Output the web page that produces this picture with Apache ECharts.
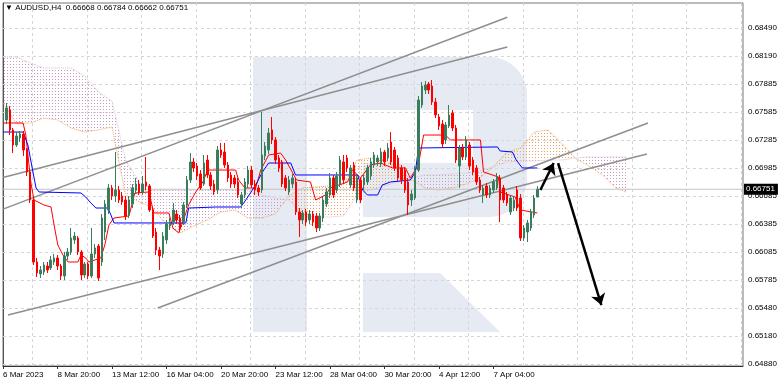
<!DOCTYPE html>
<html><head><meta charset="utf-8">
<script src="https://cdn.jsdelivr.net/npm/echarts@6/dist/echarts.min.js"></script>
<style>html,body{margin:0;padding:0;background:#fff}#c{width:782px;height:385px}</style>
</head><body><div id="c"></div>
<script>
// ---------- data ----------
const priceTicks = [0.6488,0.6518,0.6548,0.6578,0.6608,0.6638,0.6668,0.6698,0.6728,0.6758,0.6788,0.6818,0.6848];
const priceLabels = ['0.64880','0.65180','0.65480','0.65785','0.66085','0.66385','0.66685','0.66985','0.67285','0.67585','0.67885','0.68190','0.68490'];
const timeTicks = [0,16,32,48,64,80,96,112,128,144];
const timeLabels = ['6 Mar 2023','8 Mar 20:00','13 Mar 12:00','16 Mar 04:00','20 Mar 20:00','23 Mar 12:00','28 Mar 04:00','30 Mar 20:00','4 Apr 12:00','7 Apr 04:00'];
// candles: [open, close, low, high], bar index 1..157
const candles = [
[0.67493,0.67622,0.67450,0.67675],[0.67600,0.67386,0.67332,0.67643],[0.67386,0.67225,0.67139,0.67407],[0.67225,0.67321,0.67204,0.67364],
[0.67300,0.67343,0.67257,0.67375],[0.67343,0.67172,0.67107,0.67375],[0.67172,0.66936,0.66893,0.67193],[0.66936,0.66636,0.66604,0.66979],
[0.66636,0.65972,0.65940,0.66657],[0.65972,0.65854,0.65811,0.66015],[0.65844,0.65886,0.65801,0.65929],[0.65865,0.65940,0.65833,0.65972],
[0.65929,0.65886,0.65854,0.65972],[0.65908,0.65993,0.65886,0.66036],[0.65972,0.66015,0.65940,0.66058],[0.66015,0.65929,0.65886,0.66047],
[0.65929,0.65822,0.65779,0.65951],[0.65822,0.66036,0.65779,0.66079],[0.66036,0.66079,0.65993,0.66122],[0.66079,0.66229,0.66047,0.66336],
[0.66208,0.66250,0.66165,0.66293],[0.66229,0.66079,0.66047,0.66250],[0.66079,0.65833,0.65779,0.66100],[0.65833,0.65951,0.65801,0.65972],
[0.65951,0.65822,0.65790,0.65972],[0.65822,0.66058,0.65801,0.66336],[0.66058,0.66122,0.66015,0.66165],[0.66143,0.65801,0.65768,0.66165],
[0.65972,0.66443,0.65929,0.66486],[0.66293,0.66593,0.66208,0.66636],[0.66529,0.66765,0.66486,0.66807],[0.66765,0.66679,0.66636,0.66797],
[0.66679,0.66743,0.66615,0.67150],[0.66743,0.66636,0.66604,0.66786],[0.66679,0.66615,0.66583,0.66722],[0.66636,0.66465,0.66422,0.66679],
[0.66475,0.66636,0.66443,0.66679],[0.66593,0.66765,0.66550,0.66807],[0.66743,0.66807,0.66700,0.66872],[0.66807,0.66722,0.66690,0.66850],
[0.66722,0.66807,0.66690,0.66893],[0.66829,0.66786,0.66743,0.67097],[0.66786,0.66529,0.66508,0.66807],[0.66529,0.66250,0.66229,0.66550],
[0.66293,0.66100,0.66047,0.66336],[0.66100,0.66036,0.65886,0.66133],[0.66058,0.66250,0.66015,0.66293],[0.66208,0.66379,0.66165,0.66422],
[0.66358,0.66400,0.66315,0.66443],[0.66400,0.66529,0.66368,0.66604],[0.66486,0.66422,0.66379,0.66529],[0.66443,0.66336,0.66293,0.66475],
[0.66400,0.66583,0.66368,0.66615],[0.66583,0.66850,0.66550,0.66893],[0.66850,0.67043,0.66818,0.67139],[0.67043,0.66979,0.66936,0.67086],
[0.67000,0.66893,0.66850,0.67032],[0.66915,0.66765,0.66743,0.66957],[0.66807,0.67032,0.66786,0.67118],[0.67064,0.66904,0.66872,0.67118],
[0.66904,0.66786,0.66743,0.66936],[0.66807,0.66722,0.66690,0.66850],[0.66743,0.67172,0.66700,0.67214],[0.67172,0.67118,0.67086,0.67247],
[0.67150,0.67011,0.66979,0.67247],[0.67011,0.66872,0.66829,0.67043],[0.66904,0.66807,0.66765,0.66936],[0.66872,0.66807,0.66765,0.66904],
[0.66829,0.66690,0.66657,0.66872],[0.66593,0.66690,0.66550,0.66722],[0.66690,0.66829,0.66657,0.66872],[0.66807,0.66957,0.66765,0.67000],
[0.66957,0.66797,0.66765,0.67000],[0.66807,0.66743,0.66690,0.66850],[0.66765,0.66722,0.66679,0.66797],[0.66743,0.67118,0.66711,0.67579],
[0.67107,0.67214,0.67064,0.67257],[0.67172,0.67354,0.67129,0.67407],[0.67386,0.67279,0.67236,0.67525],[0.67279,0.67064,0.67022,0.67311],
[0.67086,0.66979,0.66936,0.67118],[0.67043,0.66807,0.66775,0.67064],[0.66872,0.66765,0.66732,0.66904],[0.66722,0.66850,0.66690,0.66893],
[0.66807,0.66872,0.66765,0.66915],[0.66829,0.66508,0.66475,0.66872],[0.66508,0.66422,0.66240,0.66550],[0.66422,0.66497,0.66379,0.66529],
[0.66508,0.66400,0.66358,0.66540],[0.66422,0.66486,0.66379,0.66529],[0.66486,0.66400,0.66358,0.66518],[0.66465,0.66336,0.66293,0.66497],
[0.66336,0.66465,0.66304,0.66497],[0.66443,0.66636,0.66400,0.66668],[0.66593,0.66722,0.66561,0.66765],[0.66690,0.66872,0.66657,0.66925],
[0.66872,0.66690,0.66657,0.66904],[0.66743,0.66893,0.66711,0.66936],[0.66807,0.67064,0.66775,0.67107],[0.67043,0.66850,0.66807,0.67118],
[0.67086,0.66979,0.66936,0.67118],[0.66797,0.66979,0.66765,0.67011],[0.67011,0.66765,0.66732,0.67043],[0.66636,0.66872,0.66604,0.66904],
[0.66850,0.66636,0.66604,0.66882],[0.66797,0.66872,0.66743,0.66904],[0.66829,0.66979,0.66797,0.67011],[0.66893,0.67043,0.66850,0.67086],
[0.67011,0.67118,0.66979,0.67150],[0.67043,0.67086,0.67000,0.67118],[0.67022,0.67150,0.66990,0.67193],[0.67150,0.67043,0.67000,0.67172],
[0.67086,0.67193,0.67054,0.67247],[0.67257,0.67043,0.67011,0.67364],[0.67172,0.66979,0.66947,0.67204],[0.67086,0.66872,0.66840,0.67118],
[0.66979,0.66850,0.66807,0.67011],[0.66957,0.66743,0.66711,0.66990],[0.66829,0.66583,0.66475,0.66872],[0.66636,0.66700,0.66572,0.66743],
[0.66657,0.66957,0.66636,0.67000],[0.66957,0.67707,0.66936,0.67750],[0.67654,0.67857,0.67622,0.67900],[0.67814,0.67868,0.67771,0.67911],
[0.67879,0.67814,0.67771,0.67900],[0.67857,0.67686,0.67654,0.67921],[0.67686,0.67547,0.67514,0.67729],[0.67525,0.67429,0.67386,0.67557],
[0.67450,0.67236,0.67193,0.67493],[0.67279,0.67440,0.67236,0.67472],[0.67429,0.67547,0.67407,0.67654],[0.67568,0.67407,0.67375,0.67600],
[0.67407,0.67064,0.67032,0.67440],[0.67000,0.67193,0.66765,0.67225],[0.67193,0.67097,0.67064,0.67236],[0.67097,0.67279,0.67064,0.67321],
[0.67225,0.67000,0.66957,0.67257],[0.67064,0.66936,0.66904,0.67097],[0.66979,0.66829,0.66797,0.67011],[0.66850,0.66743,0.66711,0.66882],
[0.66690,0.66765,0.66604,0.66797],[0.66786,0.66690,0.66657,0.66818],[0.66690,0.66765,0.66657,0.66797],[0.66743,0.66829,0.66711,0.66861],
[0.66765,0.66882,0.66743,0.66925],[0.66872,0.66636,0.66400,0.66904],[0.66765,0.66636,0.66604,0.66797],[0.66690,0.66604,0.66572,0.66722],
[0.66508,0.66657,0.66475,0.66690],[0.66550,0.66636,0.66518,0.66679],[0.66743,0.66550,0.66518,0.66786],[0.66657,0.66229,0.66197,0.66700],
[0.66229,0.66336,0.66197,0.66368],[0.66293,0.66390,0.66186,0.66422],[0.66336,0.66508,0.66304,0.66540],[0.66475,0.66657,0.66443,0.66690],
[0.66668,0.66751,0.66662,0.66784]
];
const tenkan = [[0,0.67461],[5.9,0.67461],[6.7,0.67332],[8.2,0.66818],[9.1,0.66636],[12.0,0.66583],[14.1,0.66561],[15.0,0.66368],[16.1,0.66154],[17.6,0.66047],[19.1,0.65972],[22.0,0.65972],[22.9,0.66047],[24.3,0.66015],[25.2,0.65972],[28.7,0.66015],[29.9,0.66154],[31.1,0.66368],[32.6,0.66443],[37.0,0.66465],[38.7,0.66711],[42.8,0.66722],[44.3,0.66497],[48.7,0.66497],[49.9,0.66336],[51.6,0.66283],[52.8,0.66400],[54.5,0.66583],[56.6,0.66722],[58.7,0.66829],[60.1,0.66957],[68.3,0.66957],[69.2,0.66850],[71.0,0.66765],[74.2,0.66765],[75.7,0.66957],[78.0,0.67118],[81.5,0.67139],[83.0,0.67064],[86.2,0.66850],[90.3,0.66829],[91.8,0.66636],[94.7,0.66690],[96.2,0.66765],[101.2,0.66829],[102.6,0.66957],[105.0,0.66872],[107.9,0.67011],[110.9,0.67032],[114.4,0.66979],[118.2,0.66979],[119.6,0.66872],[122.0,0.67011],[123.5,0.67332],[129.9,0.67332],[131.4,0.67279],[140.2,0.67279],[141.1,0.66936],[145.5,0.66882],[146.0,0.66722],[150.4,0.66668],[151.9,0.66529],[156.9,0.66497]];
const kijun = [[0,0.67364],[5.9,0.67364],[7.3,0.67225],[8.8,0.66936],[9.7,0.66765],[10.6,0.66722],[22.9,0.66711],[24.3,0.66668],[25.8,0.66604],[27.3,0.66550],[30.8,0.66550],[31.7,0.66475],[32.6,0.66390],[53.7,0.66390],[54.5,0.66550],[62.5,0.66561],[69.8,0.66561],[71.3,0.66636],[74.2,0.66797],[76.2,0.66936],[78.0,0.67032],[84.5,0.67032],[85.9,0.66904],[104.1,0.66904],[105.6,0.66743],[107.0,0.66690],[110.0,0.66690],[111.4,0.66797],[113.8,0.66829],[119.6,0.66850],[121.1,0.66936],[122.0,0.67193],[145.2,0.67204],[146.0,0.67161],[149.6,0.67150],[150.7,0.67064],[152.5,0.66979],[156.9,0.66979]];
const cloudIdx = [0,4,8,12,16,20,24,28,32,36,40,44,48,52,56,60,64,68,72,76,80,84,88,92,96,100,104,108,112,116,120,124,128,132,136,140,144,148,152,156,160,164,168,172,176,180,183];
const spanA = [0.67675,0.67450,0.67461,0.67514,0.67493,0.67407,0.67364,0.67386,0.67418,0.66690,0.66615,0.66550,0.66368,0.66283,0.66358,0.66422,0.66508,0.66529,0.66443,0.66443,0.66486,0.66679,0.66765,0.66775,0.66786,0.66797,0.67064,0.67086,0.67064,0.66979,0.66850,0.66765,0.66743,0.66765,0.66807,0.66872,0.66990,0.67150,0.67193,0.67364,0.67386,0.67247,0.67086,0.67000,0.66904,0.66765,0.66722];
const spanB = [0.68168,0.68168,0.68103,0.68050,0.68050,0.68050,0.67964,0.67793,0.67696,0.67064,0.66829,0.66743,0.66743,0.66743,0.66743,0.66743,0.66743,0.66743,0.66732,0.66690,0.66657,0.66636,0.66465,0.66454,0.66454,0.66465,0.66690,0.66743,0.66786,0.66829,0.66872,0.66904,0.66904,0.66915,0.66925,0.66947,0.66990,0.67043,0.67054,0.67054,0.67064,0.67064,0.67086,0.67097,0.67097,0.67097,0.67097];
const trendLines = [
  [[0,0.66877],[148.1,0.68275]],
  [[0,0.66538],[148.1,0.68593]],
  [[1.47,0.65404],[189.1,0.67129]],
  [[45.45,0.65479],[189.4,0.67461]]
];
const arrows = [
  [[157.8,0.66743],[161.7,0.67032]],
  [[163.0,0.67032],[175.7,0.65511]]
];
const lastPrice = 0.66751;
const titleText = '\u25BC AUDUSD,H4  0.66668 0.66784 0.66662 0.66751';

// ---------- chart ----------
const X_MIN = 0, X_MAX = 217.3, Y_MIN = 0.64858, Y_MAX = 0.68746;
const FONT = '"Liberation Sans", Arial, sans-serif';
function makePattern(color){
  const c = document.createElement('canvas'); c.width = 3; c.height = 3;
  const g = c.getContext('2d'); g.fillStyle = color; g.fillRect(1,1,1,1);
  return {image: c, repeat: 'repeat'};
}
const patUp = makePattern('#f0a060');
const patDn = makePattern('#c99ac9');

const gridX = [];
for (let v = 8.7; v < X_MAX; v += 16) gridX.push(v);
const gridLineData = gridX.map(v => ({coords: [[v, Y_MIN], [v, Y_MAX]]}))
  .concat(priceTicks.map(v => ({coords: [[X_MIN, v], [X_MAX, v]]})));

const chart = echarts.init(document.getElementById('c'), null, {renderer: 'canvas'});
const wm = 'rgb(230,234,242)';
chart.setOption({
  animation: false,
  backgroundColor: '#fff',
  title: {text: titleText, left: 5, top: 4, padding: 0, textStyle: {fontSize: 8, fontWeight: 'normal', color: '#000', fontFamily: FONT}},
  graphic: {elements: [
    {type: 'rect', z: -1, shape: {x: 253, y: 57, width: 54, height: 275}, style: {fill: wm}},
    {type: 'rect', z: -1, shape: {x: 253, y: 57, width: 274, height: 53, r: [0, 38, 0, 0]}, style: {fill: wm}},
    {type: 'rect', z: -1, shape: {x: 473, y: 57, width: 54, height: 160, r: [0, 38, 38, 0]}, style: {fill: wm}},
    {type: 'rect', z: -1, shape: {x: 363, y: 163, width: 164, height: 54, r: [0, 0, 38, 0]}, style: {fill: wm}},
    {type: 'polygon', z: -1, shape: {points: [[363,273],[440,273],[500,332],[363,332]]}, style: {fill: wm}}
  ]},
  grid: {left: 2, right: 39, top: 3, bottom: 19, show: true, borderColor: '#777', borderWidth: 1, backgroundColor: 'transparent'},
  xAxis: {
    type: 'value', min: X_MIN, max: X_MAX,
    axisLine: {show: true, lineStyle: {color: '#333'}},
    axisTick: {show: true, length: 3, customValues: timeTicks, lineStyle: {color: '#333'}},
    axisLabel: {show: true, customValues: timeTicks, align: 'left', margin: 5, fontSize: 8, color: '#000', fontFamily: FONT,
      formatter: v => { const k = timeTicks.indexOf(Math.round(v)); return k >= 0 ? timeLabels[k] : ''; }},
    splitLine: {show: false}
  },
  yAxis: {
    type: 'value', position: 'right', min: Y_MIN, max: Y_MAX, scale: true,
    axisLine: {show: true, lineStyle: {color: '#555'}},
    axisTick: {show: true, length: 3, customValues: priceTicks, lineStyle: {color: '#555'}},
    axisLabel: {show: true, customValues: priceTicks, margin: 5, fontSize: 8, color: '#000', fontFamily: FONT,
      formatter: v => { let best = -1, bd = 1; priceTicks.forEach((t, i) => { const d = Math.abs(t - v); if (d < bd) { bd = d; best = i; } }); return bd < 1e-5 ? priceLabels[best] : ''; }},
    splitLine: {show: false}
  },
  series: [
    {type: 'lines', coordinateSystem: 'cartesian2d', silent: true, z: 1, polyline: false,
      lineStyle: {color: '#d6d6d6', width: 1, type: [3, 3], opacity: 1}, data: gridLineData},
    {type: 'custom', z: 2, silent: true, clip: true,
      data: cloudIdx.slice(0, -1).map((_, k) => [k]),
      encode: {x: -1, y: -1},
      renderItem: (params, api) => {
        const k = api.value(0);
        const i0 = cloudIdx[k], i1 = cloudIdx[k + 1];
        const a0 = spanA[k], a1 = spanA[k + 1], b0 = spanB[k], b1 = spanB[k + 1];
        const d0 = a0 - b0, d1 = a1 - b1;
        const P = (i, v) => api.coord([i, v]);
        const polys = [];
        if (d0 * d1 < 0) {
          const t = d0 / (d0 - d1), ic = i0 + t * (i1 - i0), vc = a0 + t * (a1 - a0);
          polys.push({pts: [P(i0, a0), P(ic, vc), P(i0, b0)], up: d0 > 0});
          polys.push({pts: [P(ic, vc), P(i1, a1), P(i1, b1)], up: d1 > 0});
        } else {
          polys.push({pts: [P(i0, a0), P(i1, a1), P(i1, b1), P(i0, b0)], up: (d0 + d1) > 0});
        }
        return {type: 'group', children: polys.map(p => ({type: 'polygon', shape: {points: p.pts}, style: {fill: p.up ? patUp : patDn}}))};
      }},
    {type: 'line', z: 3, silent: true, symbol: 'none', data: cloudIdx.map((x, k) => [x, spanA[k]]),
      lineStyle: {color: '#f4a460', width: 1, type: 'dotted'}},
    {type: 'line', z: 3, silent: true, symbol: 'none', data: cloudIdx.map((x, k) => [x, spanB[k]]),
      lineStyle: {color: '#d8bfd8', width: 1, type: 'dotted'}},
    {type: 'line', z: 3, silent: true, symbol: 'none', clip: false,
      data: [[X_MIN, lastPrice], [X_MAX, lastPrice]],
      lineStyle: {color: '#c4c4c4', width: 1},
      endLabel: {show: true, distance: 1, formatter: () => lastPrice.toFixed(5),
        backgroundColor: '#000', color: '#fff', fontSize: 8, fontFamily: FONT, padding: [2, 3, 1, 2]}},
    {type: 'lines', coordinateSystem: 'cartesian2d', silent: true, z: 4,
      lineStyle: {color: '#8f8f8f', width: 1.5, opacity: 1}, data: trendLines.map(c => ({coords: c}))},
    {type: 'line', z: 5, silent: true, symbol: 'none', data: tenkan, lineStyle: {color: '#ff0000', width: 1}},
    {type: 'line', z: 5, silent: true, symbol: 'none', data: kijun, lineStyle: {color: '#0000ff', width: 1}},
    {type: 'candlestick', z: 6, silent: true, barWidth: 2,
      encode: {x: 0, y: [1, 2, 3, 4]},
      data: candles.map((c, i) => [i + 1, c[0], c[1], c[2], c[3]]),
      itemStyle: {color: '#3a7d5d', color0: '#ff0000', borderColor: '#3a7d5d', borderColor0: '#ff0000', borderWidth: 1}},
    {type: 'lines', coordinateSystem: 'cartesian2d', silent: true, z: 7,
      symbol: ['none', 'arrow'], symbolSize: 11,
      lineStyle: {color: '#000', width: 2.5, opacity: 1}, data: arrows.map(c => ({coords: c}))}
  ]
});
</script></body></html>
